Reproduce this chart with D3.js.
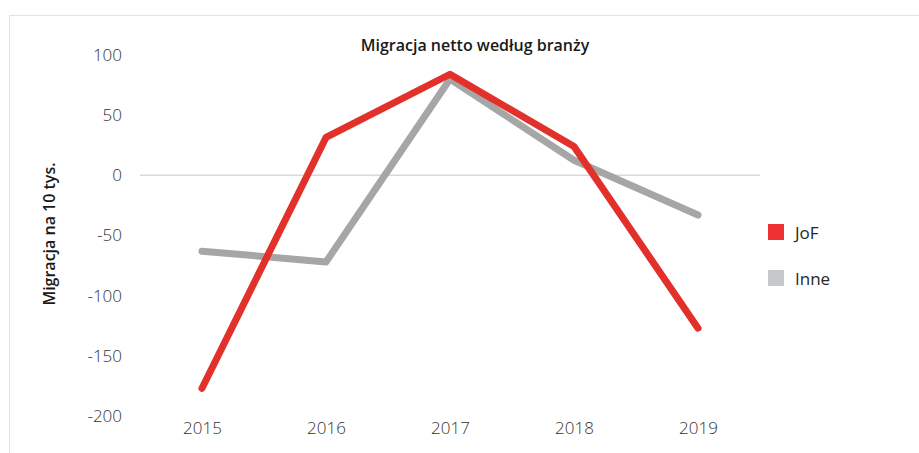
<!DOCTYPE html>
<html>
<head>
<meta charset="utf-8">
<script src="https://cdn.jsdelivr.net/npm/d3@7"></script>
<style>
  body { margin: 0; background: #fff; }
  text { font-family: "Open Sans", sans-serif; }
</style>
</head>
<body>
<svg width="919" height="453"></svg>
<script>
var years = ["2015", "2016", "2017", "2018", "2019"];
var jof = [-177, 31.5, 84, 24, -127];
var inne = [-63, -72, 80, 12.5, -33];
var yTicks = [100, 50, 0, -50, -100, -150, -200];
var seriesNames = ["JoF", "Inne"];
var lineColors = ["#e2312b", "#a6a6a6"];
var legendColors = ["#ee3131", "#c7c8ca"];

var svg = d3.select("svg");

// ramka
svg.append("rect")
	.attr("x", 9.5).attr("y", 15.5)
	.attr("width", 940).attr("height", 460)
	.attr("fill", "none").attr("stroke", "#e2e2e2");

var x = d3.scalePoint().domain(years).range([140, 760]).padding(0.5);
var y = d3.scaleLinear().domain([-200, 100]).range([416, 55]);

// osie
var yAxis = svg.append("g").attr("transform", "translate(122,0)")
	.call(d3.axisLeft(y).tickValues(yTicks).tickSize(0).tickPadding(0).tickFormat(function(d){ return String(d); }));
yAxis.select(".domain").remove();
yAxis.selectAll("text").attr("font-size", 17).attr("fill", "#333").attr("font-weight", 300);

var xAxis = svg.append("g").attr("transform", "translate(0,422)")
	.call(d3.axisBottom(x).tickSize(0).tickPadding(0));
xAxis.select(".domain").remove();
xAxis.selectAll("text").attr("font-size", 17).attr("fill", "#333").attr("font-weight", 300);

svg.append("line")
	.attr("x1", 140).attr("x2", 760)
	.attr("y1", y(0)).attr("y2", y(0))
	.attr("stroke", "#d9d9d9").attr("stroke-width", 1.5);

// linie
var line = d3.line().x(function(d, i){ return x(years[i]); }).y(function(d){ return y(d); });
[inne, jof].forEach(function(s, k){
	svg.append("path")
		.datum(s)
		.attr("d", line)
		.attr("fill", "none")
		.attr("stroke", lineColors[1 - k])
		.attr("stroke-width", 7)
		.attr("stroke-linecap", "round")
		.attr("stroke-linejoin", "round");
});

// tytuły
svg.append("text")
	.attr("x", 475).attr("y", 51)
	.attr("text-anchor", "middle")
	.attr("font-size", 16).attr("font-weight", 600).attr("fill", "#1a1a1a")
	.text("Migracja netto według branży");

svg.append("text")
	.attr("transform", "translate(55,234) rotate(-90)")
	.attr("text-anchor", "middle")
	.attr("font-size", 16).attr("font-weight", 600).attr("fill", "#1a1a1a")
	.text("Migracja na 10 tys.");

// legenda
var legend = svg.selectAll(".leg").data(seriesNames).enter().append("g")
	.attr("transform", function(d, i){ return "translate(768," + (224 + i * 46) + ")"; });
legend.append("rect")
	.attr("width", 16).attr("height", 16)
	.attr("fill", function(d, i){ return legendColors[i]; });
legend.append("text")
	.attr("x", 27).attr("y", 15)
	.attr("font-size", 17).attr("fill", "#262626")
	.text(function(d){ return d; });
</script>
</body>
</html>
